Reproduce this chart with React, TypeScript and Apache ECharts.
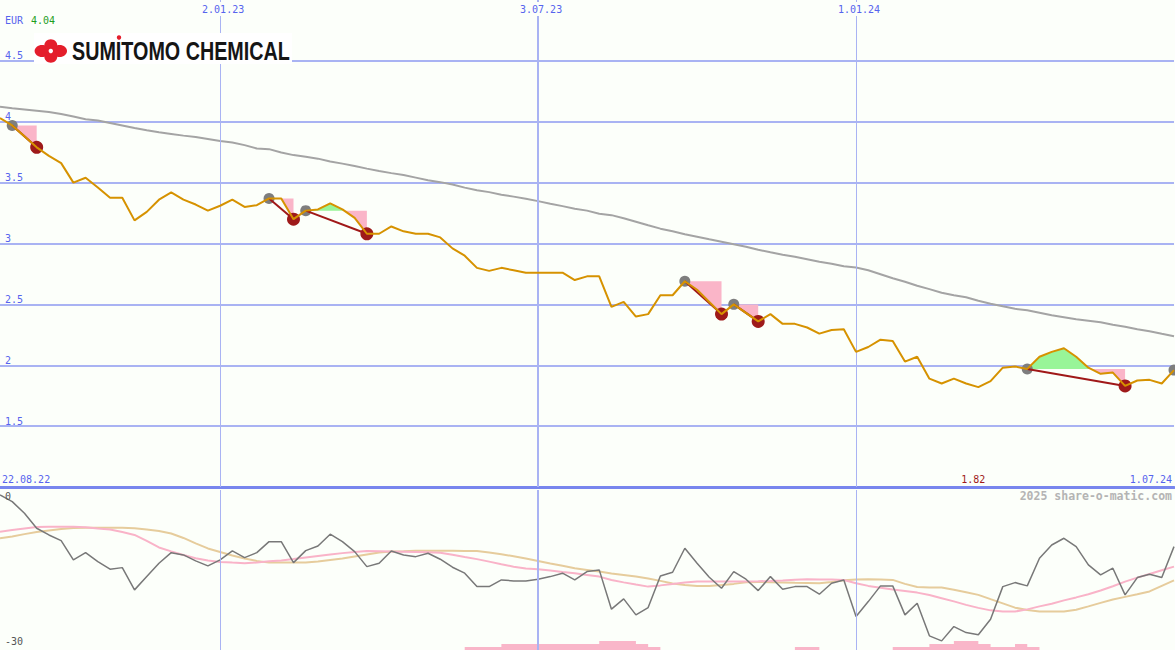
import React, { useEffect, useRef } from "react";
import * as echarts from "echarts";

// ---- categories: weekly closes, Monday 29.08.22 .. Monday 1.07.24 ----
const START = Date.UTC(2022, 7, 29);
const dates: string[] = Array.from({ length: 97 }, (_, i) =>
  new Date(START + i * 7 * 864e5).toISOString().slice(0, 10)
);

// vertical grid dates and their labels
const gridDates = ["2023-01-02", "2023-07-03", "2024-01-01"];
const gridLabels = ["2.01.23", "3.07.23", "1.01.24"];

// weekly close (EUR)
const price = [
  4.03, 3.97, 3.88, 3.79, 3.72, 3.66, 3.5, 3.54, 3.46, 3.375,
  3.375, 3.19, 3.26, 3.36, 3.42, 3.36, 3.32, 3.27, 3.31, 3.36,
  3.3, 3.315, 3.37, 3.37, 3.2, 3.27, 3.28, 3.33, 3.28, 3.21,
  3.08, 3.08, 3.14, 3.1, 3.08, 3.08, 3.05, 2.96, 2.9, 2.8,
  2.775, 2.8, 2.78, 2.76, 2.76, 2.76, 2.76, 2.7, 2.73, 2.73,
  2.48, 2.52, 2.4, 2.42, 2.575, 2.575, 2.69, 2.62, 2.52, 2.42,
  2.5, 2.43, 2.36, 2.42, 2.34, 2.34, 2.31, 2.26, 2.29, 2.295,
  2.11, 2.15, 2.21, 2.2, 2.03, 2.07, 1.89, 1.85, 1.89, 1.85,
  1.82, 1.87, 1.98, 1.99, 1.97, 2.07, 2.11, 2.14, 2.07, 1.98,
  1.93, 1.94, 1.83, 1.875, 1.88, 1.85, 1.96,
];

// long moving average (grey)
const avg = [
  4.123, 4.11, 4.1, 4.09, 4.08, 4.063, 4.043, 4.02, 4.01, 3.99,
  3.969, 3.948, 3.93, 3.913, 3.9, 3.886, 3.874, 3.858, 3.841, 3.829,
  3.808, 3.78, 3.775, 3.747, 3.726, 3.712, 3.697, 3.673, 3.656, 3.636,
  3.615, 3.595, 3.578, 3.562, 3.541, 3.52, 3.504, 3.484, 3.459, 3.438,
  3.422, 3.401, 3.385, 3.368, 3.348, 3.327, 3.307, 3.286, 3.27, 3.245,
  3.233, 3.208, 3.179, 3.15, 3.122, 3.101, 3.076, 3.056, 3.035, 3.015,
  2.994, 2.974, 2.949, 2.928, 2.908, 2.891, 2.871, 2.85, 2.834, 2.813,
  2.803, 2.78, 2.748, 2.715, 2.686, 2.653, 2.625, 2.596, 2.575, 2.558,
  2.53, 2.505, 2.484, 2.464, 2.451, 2.431, 2.41, 2.394, 2.377, 2.365,
  2.353, 2.332, 2.316, 2.295, 2.279, 2.258, 2.238,
];

// lower panel: momentum (dark grey)
const momentum = [
  -0.97, -2.26, -4.51, -7.41, -8.71, -9.81, -13.55, -12.14, -13.88, -15.35,
  -15.04, -19.35, -16.78, -14.19, -12.14, -12.58, -13.74, -14.71, -13.55, -11.81,
  -13.1, -12.14, -10.01, -10.01, -14.07, -11.75, -10.84, -8.57, -10.01, -11.94,
  -14.85, -14.19, -11.81, -12.58, -12.91, -12.25, -13.41, -14.96, -16.12, -18.72,
  -18.72, -17.42, -17.61, -17.61, -17.28, -16.78, -16.12, -17.42, -15.81, -15.48,
  -23.09, -21.1, -24.19, -22.78, -16.65, -15.93, -11.28, -14.19, -16.9, -19.03,
  -15.81, -17.28, -19.49, -16.78, -19.22, -18.72, -18.72, -20.19, -18.06, -17.42,
  -24.52, -21.62, -18.58, -18.58, -24.19, -21.93, -28.26, -29.23, -26.46, -27.62,
  -28.06, -25.03, -18.72, -17.94, -18.58, -13.22, -10.65, -9.35, -10.97, -14.52,
  -16.45, -15.15, -20.32, -16.97, -16.32, -16.97, -10.97,
];

// lower panel: smoothed (pink)
const momPink = [
  -8.07, -7.74, -7.45, -7.16, -7.1, -7.1, -7.1, -7.22, -7.45, -7.65,
  -8.13, -8.71, -9.87, -11.13, -11.9, -12.58, -13.22, -13.65, -13.94, -14.07,
  -14.17, -14.05, -13.8, -13.65, -13.39, -13.06, -12.77, -12.48, -12.23, -12.0,
  -11.81, -11.85, -11.9, -11.94, -12.0, -12.06, -12.14, -12.54, -12.97, -13.39,
  -13.88, -14.38, -14.86, -15.19, -15.35, -15.58, -15.87, -16.14, -16.45, -16.78,
  -17.42, -17.9, -18.33, -18.72, -18.48, -18.19, -17.94, -17.75, -17.75, -17.75,
  -17.75, -17.75, -17.69, -17.61, -17.52, -17.38, -17.28, -17.32, -17.36, -17.42,
  -18.06, -18.58, -18.93, -19.26, -19.55, -19.88, -20.36, -20.96, -21.58, -22.26,
  -22.84, -23.32, -23.55, -23.55, -23.13, -22.55, -22.03, -21.39, -20.81, -20.19,
  -19.47, -18.64, -17.75, -16.97, -16.26, -15.54, -14.85,
];

// lower panel: slower smoothed (tan)
const momTan = [
  -9.35, -9.0, -8.55, -8.13, -7.84, -7.55, -7.35, -7.3, -7.3, -7.3,
  -7.3, -7.41, -7.65, -7.94, -8.42, -9.29, -10.35, -11.32, -12.0, -12.68,
  -13.26, -13.74, -14.07, -14.07, -14.07, -14.07, -13.84, -13.55, -13.26, -12.87,
  -12.48, -12.1, -11.9, -11.85, -11.77, -11.75, -11.77, -11.79, -11.81, -11.81,
  -12.12, -12.45, -12.83, -13.26, -13.74, -14.23, -14.67, -15.15, -15.48, -15.81,
  -16.16, -16.45, -16.78, -17.15, -17.61, -18.1, -18.39, -18.58, -18.58, -18.39,
  -18.19, -17.86, -17.81, -17.86, -17.9, -17.96, -18.0, -18.06, -17.81, -17.48,
  -17.36, -17.28, -17.34, -17.42, -18.19, -18.81, -18.91, -18.91, -19.32, -19.8,
  -20.32, -21.15, -21.97, -22.8, -23.26, -23.55, -23.55, -23.55, -23.19, -22.55,
  -21.87, -21.21, -20.71, -20.21, -19.65, -18.58, -17.52,
];

// pink step blocks at the bottom (level for the week starting at each index)
const barLevel = [
  0, 0, 0, 0, 0, 0, 0, 0, 0, 0,
  0, 0, 0, 0, 0, 0, 0, 0, 0, 0,
  0, 0, 0, 0, 0, 0, 0, 0, 0, 0,
  0, 0, 0, 0, 0, 0, 0, 0, 1, 1,
  1, 2, 2, 2, 2, 2, 2, 2, 2, 3,
  3, 3, 2, 1, 0, 0, 0, 0, 0, 0,
  0, 0, 0, 0, 0, 1, 1, 0, 0, 0,
  0, 0, 0, 1, 1, 1, 2, 2, 3, 3,
  2, 1, 1, 2, 1, 0, 0, 0, 0, 0,
  0, 0, 0, 0, 0, 0, 0,
];

// signals: [start index (grey dot), end index (red dot)]
const signals: number[][] = [
  [1, 3],
  [22, 24],
  [25, 30],
  [56, 59],
  [60, 62],
  [84, 92],
];
const openSignals = [96];

// texts
const currency = "EUR";
const firstClose = "4.04";
const startLabel = "22.08.22";
const endLabel = "1.07.24";
const credit = "2025 share-o-matic.com";
const lowerTop = "0";
const lowerBottom = "-30";
const brand = "SUMITOMO CHEMICAL";

const BG = "#fcfffa";
const GRID = "#a9b3f3";
const BLUE_TXT = "#5664ee";
const MONO = "'DejaVu Sans Mono', monospace";

function renderFill(params: any, api: any) {
  const [s, e] = signals[params.dataIndex];
  const L = price[s];
  const ly = api.coord([s, L])[1];
  const pts: number[][] = [];
  for (let k = s; k < e; k++) {
    const p0 = api.coord([k, price[k]]);
    const p1 = api.coord([k + 1, price[k + 1]]);
    pts.push(p0);
    const a = price[k] - L;
    const b = price[k + 1] - L;
    if (a * b < 0) {
      const t = a / (a - b);
      pts.push([p0[0] + t * (p1[0] - p0[0]), ly]);
    }
  }
  pts.push(api.coord([e, price[e]]));
  const x0 = pts[0][0];
  const x1 = pts[pts.length - 1][0];
  const up = pts.map((p) => [p[0], Math.min(p[1], ly)]).concat([[x1, ly], [x0, ly]]);
  const dn = pts.map((p) => [p[0], Math.max(p[1], ly)]).concat([[x1, ly], [x0, ly]]);
  return {
    type: "group",
    children: [
      { type: "polygon", shape: { points: up }, style: { fill: "#98f598" } },
      { type: "polygon", shape: { points: dn }, style: { fill: "#fab5c8" } },
    ],
  };
}

function renderSignalLine(params: any, api: any) {
  const [s, e] = signals[params.dataIndex];
  const a = api.coord([s, price[s]]);
  const b = api.coord([e, price[e]]);
  return {
    type: "line",
    shape: { x1: a[0], y1: a[1], x2: b[0], y2: b[1] },
    style: { stroke: "#a01818", lineWidth: 2 },
  };
}

export default function App() {
  const ref = useRef<HTMLDivElement>(null);

  useEffect(() => {
    const el = ref.current;
    if (!el) return;
    const chart = echarts.init(el, null, { renderer: "svg" });

    const vlines = gridDates.map((d, k) => ({
      xAxis: d,
      lineStyle: { color: GRID, width: k === 1 ? 2 : 1, type: "solid" },
    }));
    const markLine = {
      silent: true,
      symbol: "none",
      label: { show: false },
      lineStyle: { type: "solid" },
      data: vlines,
    };

    const option: any = {
      animation: false,
      backgroundColor: BG,
      grid: [
        { left: 0, right: 1, top: 0, height: 487 },
        { left: 0, right: 1, top: 490, height: 160 },
        { left: 0, right: 1, top: 640, height: 10 },
      ],
      xAxis: [
        {
          type: "category",
          gridIndex: 0,
          data: dates,
          boundaryGap: false,
          axisLine: { show: true, onZero: false, lineStyle: { color: "#7886ee", width: 3 } },
          axisTick: { show: false },
          axisLabel: { show: false },
          splitLine: { show: false },
        },
        { type: "category", gridIndex: 1, data: dates, boundaryGap: false, show: false },
        { type: "category", gridIndex: 2, data: dates, boundaryGap: false, show: false },
      ],
      yAxis: [
        {
          type: "value",
          gridIndex: 0,
          min: 1,
          max: 5,
          interval: 0.5,
          axisLine: { show: false },
          axisTick: { show: false },
          axisLabel: {
            inside: true,
            margin: 5,
            verticalAlign: "bottom",
            color: BLUE_TXT,
            fontFamily: MONO,
            fontSize: 10,
            formatter: (v: number) => (v <= 1 || v >= 5 ? "" : String(v)),
          },
          splitLine: {
            show: true,
            showMinLine: false,
            showMaxLine: false,
            lineStyle: { color: GRID, width: 2 },
          },
        },
        { type: "value", gridIndex: 1, min: -31, max: 0, show: false },
        { type: "value", gridIndex: 2, min: 0, max: 3.3, show: false },
      ],
      series: [
        {
          type: "line",
          name: "average",
          xAxisIndex: 0,
          yAxisIndex: 0,
          data: avg,
          symbol: "none",
          lineStyle: { color: "#a4a4a4", width: 2 },
          z: 2,
          markLine,
        },
        {
          type: "custom",
          name: "fills",
          xAxisIndex: 0,
          yAxisIndex: 0,
          data: signals.map(([s, e]) => [s, price[s], e]),
          renderItem: renderFill,
          silent: true,
          z: 3,
        },
        {
          type: "scatter",
          name: "start",
          xAxisIndex: 0,
          yAxisIndex: 0,
          data: signals.map(([s]) => [s, price[s]]).concat(openSignals.map((s) => [s, price[s]])),
          symbolSize: 11,
          itemStyle: { color: "#7e7e7e", opacity: 1 },
          z: 4,
        },
        {
          type: "scatter",
          name: "end",
          xAxisIndex: 0,
          yAxisIndex: 0,
          data: signals.map(([, e]) => [e, price[e]]),
          symbolSize: 13,
          itemStyle: { color: "#9e1a1a", opacity: 1 },
          z: 4,
        },
        {
          type: "custom",
          name: "signal",
          xAxisIndex: 0,
          yAxisIndex: 0,
          data: signals.map(([s, e]) => [s, price[s], e]),
          renderItem: renderSignalLine,
          silent: true,
          z: 5,
        },
        {
          type: "line",
          name: "close",
          xAxisIndex: 0,
          yAxisIndex: 0,
          data: price,
          symbol: "none",
          lineStyle: { color: "#d69200", width: 2 },
          z: 6,
        },
        {
          type: "line",
          name: "tan",
          xAxisIndex: 1,
          yAxisIndex: 1,
          data: momTan,
          symbol: "none",
          lineStyle: { color: "#e6cc9c", width: 2 },
          z: 2,
        },
        {
          type: "line",
          name: "pink",
          xAxisIndex: 1,
          yAxisIndex: 1,
          data: momPink,
          symbol: "none",
          lineStyle: { color: "#f9b3c8", width: 2 },
          z: 3,
        },
        {
          type: "line",
          name: "momentum",
          xAxisIndex: 1,
          yAxisIndex: 1,
          data: momentum,
          symbol: "none",
          lineStyle: { color: "#787878", width: 1.5 },
          z: 4,
          markLine,
        },
        {
          type: "line",
          name: "blocks",
          xAxisIndex: 2,
          yAxisIndex: 2,
          data: barLevel,
          step: "end",
          symbol: "none",
          lineStyle: { width: 0 },
          areaStyle: { color: "#f9b6c9", opacity: 1 },
          z: 1,
        },
      ],
    };
    chart.setOption(option);

    // positions from the axes
    const gx = gridDates.map((d) => chart.convertToPixel({ xAxisIndex: 0 }, d) as number);
    let minIdx = 0;
    price.forEach((v, i) => {
      if (v < price[minIdx]) minIdx = i;
    });
    const minX = chart.convertToPixel({ xAxisIndex: 0 }, minIdx) as number;

    // brand text width fit
    const brandFont = "bold 25px 'Liberation Sans'";
    let scaleX = 0.7;
    try {
      const ctx = document.createElement("canvas").getContext("2d");
      if (ctx) {
        ctx.font = brandFont;
        const w = ctx.measureText(brand).width;
        if (w > 0) scaleX = 218 / w;
      }
    } catch (e) {}

    const red = "#e41e2b";
    const txt = (text: string, x: number, y: number, fill: string, align = "left", extra: any = {}) => ({
      type: "text",
      x,
      y,
      z: 100,
      silent: true,
      style: { text, fill, font: `10px ${MONO}`, align, verticalAlign: "middle", ...extra },
    });

    const cx = 50.8;
    const cy = 51;
    const graphic: any[] = [
      ...gridLabels.map((l, k) =>
        txt(l, gx[k] + 3, 9, BLUE_TXT, "center", { backgroundColor: BG, padding: [2, 2, 2, 2] })
      ),
      txt(currency, 5, 20, BLUE_TXT),
      txt(firstClose, 31, 20, "#1e9e1e"),
      txt(startLabel, 2, 479, BLUE_TXT),
      txt(endLabel, 1172, 479, BLUE_TXT, "right"),
      txt(price[minIdx].toFixed(2), minX - 5, 479, "#a01a1a", "center"),
      txt(credit, 1172, 496, "#b4b4b4", "right", { font: `bold 11.5px ${MONO}` }),
      txt(lowerTop, 5, 496, "#555555"),
      txt(lowerBottom, 5, 641, "#555555"),
      {
        type: "group",
        z: 100,
        silent: true,
        children: [
          { type: "rect", z: 100, shape: { x: 34, y: 33, width: 258, height: 31 }, style: { fill: "#ffffff" } },
          // four-lobed emblem
          { type: "ellipse", z: 101, shape: { cx: cx, cy: cy - 5.5, rx: 6.5, ry: 6.2 }, style: { fill: red } },
          { type: "ellipse", z: 101, shape: { cx: cx, cy: cy + 5.5, rx: 6.5, ry: 6.2 }, style: { fill: red } },
          { type: "ellipse", z: 101, shape: { cx: cx - 8.8, cy: cy, rx: 7.4, ry: 6 }, style: { fill: red } },
          { type: "ellipse", z: 101, shape: { cx: cx + 8.8, cy: cy, rx: 7.4, ry: 6 }, style: { fill: red } },
          { type: "rect", z: 101, shape: { x: cx - 6, y: cy - 5, width: 12, height: 10 }, style: { fill: red } },
          { type: "circle", z: 102, shape: { cx: cx, cy: cy, r: 2.2 }, style: { fill: "#ffffff" } },
          {
            type: "text",
            z: 101,
            x: 72,
            y: 52,
            scaleX,
            scaleY: 1,
            style: { text: brand, fill: "#151515", font: brandFont, align: "left", verticalAlign: "middle" },
          },
          { type: "circle", z: 103, shape: { cx: 119, cy: 37.5, r: 2.2 }, style: { fill: red } },
        ],
      },
    ];
    chart.setOption({ graphic });

    return () => chart.dispose();
  }, []);

  return (
    <div
      ref={ref}
      style={{ position: "fixed", left: 0, top: 0, width: 1175, height: 650 }}
    />
  );
}
